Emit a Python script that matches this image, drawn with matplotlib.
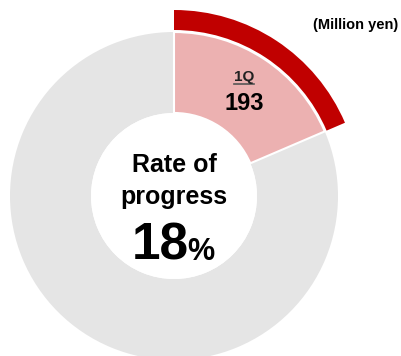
import matplotlib
matplotlib.use("Agg")
import matplotlib.pyplot as plt
from matplotlib.patches import Wedge, Circle
from matplotlib.lines import Line2D

plt.rcParams['font.family'] = ['Liberation Sans', 'DejaVu Sans']

# Progress data (million yen)
quarter_labels = ["1Q"]
quarter_values = [193]
annual_target = 1040
unit_label = "(Million yen)"
center_title = ["Rate of", "progress"]

achieved = sum(quarter_values)
rate = achieved / annual_target
rate_pct = int(rate * 100)

W, H = 402, 356
fig = plt.figure(figsize=(W / 100, H / 100), dpi=100)
ax = fig.add_axes([0, 0, 1, 1])
ax.set_xlim(0, W)
ax.set_ylim(0, H)
ax.set_aspect('equal')
ax.axis('off')

cx, cy = 174, H - 196
r_out, r_in = 164, 83
gray = "#E5E5E5"
pink = "#ECB1B1"
red = "#C00000"

# background ring = full target
ax.add_patch(Wedge((cx, cy), r_out, 0, 360, width=r_out - r_in, facecolor=gray, edgecolor='none'))

# achieved portion, clockwise from 12 o'clock
sweep = 360 * rate
t1, t2 = 90 - sweep, 90
ax.add_patch(Wedge((cx, cy), r_out, t1, t2, width=r_out - r_in, facecolor=pink,
                   edgecolor='white', linewidth=1.5))
# outer highlight arc for the cumulative result
ax.add_patch(Wedge((cx, cy), r_out + 22, t1, t2, width=20, facecolor=red, edgecolor='none'))

# center hole
ax.add_patch(Circle((cx, cy), r_in, facecolor='white', edgecolor='none'))

# center text
ax.text(cx, H - 165, center_title[0], ha='center', va='center', fontsize=18, fontweight='bold')
ax.text(cx, H - 197, center_title[1], ha='center', va='center', fontsize=18, fontweight='bold')
ax.text(cx + 15, H - 260, f"{rate_pct}", ha='right', va='baseline', fontsize=37,
        fontweight='bold')
ax.text(cx + 13.5, H - 260, "%", ha='left', va='baseline', fontsize=22, fontweight='bold')

# wedge label
qx = 244
q_txt = ax.text(qx, H - 77, quarter_labels[0], ha='center', va='center', fontsize=11,
                fontweight='bold', color='#222222')
ax.text(qx, H - 104, f"{quarter_values[0]}", ha='center', va='center', fontsize=17,
        fontweight='bold')

ax.text(398, H - 25, unit_label, ha='right', va='center', fontsize=10.5, fontweight='bold')

# underline for the quarter label
fig.canvas.draw()
bb = q_txt.get_window_extent().transformed(ax.transData.inverted())
ax.add_line(Line2D([bb.x0, bb.x1], [bb.y0 + 0.5, bb.y0 + 0.5], color='#555555', linewidth=1.2))

fig.savefig("out.png", dpi=100)
